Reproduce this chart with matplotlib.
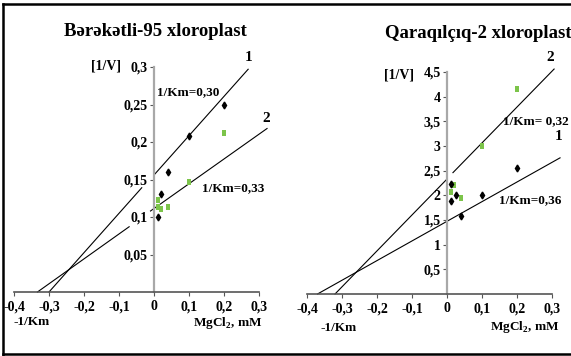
import matplotlib
matplotlib.use('Agg')
import matplotlib.pyplot as plt
from matplotlib.lines import Line2D

plt.rcParams['font.family'] = ['Liberation Serif', 'DejaVu Serif']
plt.rcParams['font.weight'] = 'bold'
plt.rcParams['mathtext.fontset'] = 'custom'
plt.rcParams['mathtext.rm'] = 'Liberation Serif:bold'
plt.rcParams['mathtext.bf'] = 'Liberation Serif:bold'

# Tick values and labels
x_ticks = [-0.4, -0.3, -0.2, -0.1, 0.0, 0.1, 0.2, 0.3]
x_labels = ['-0,4', '-0,3', '-0,2', '-0,1', '0', '0,1', '0,2', '0,3']
left_y_ticks = [0.05, 0.10, 0.15, 0.20, 0.25, 0.30]
left_y_labels = ['0,05', '0,1', '0,15', '0,2', '0,25', '0,3']
right_y_ticks = [0.5, 1.0, 1.5, 2.0, 2.5, 3.0, 3.5, 4.0, 4.5]
right_y_labels = ['0,5', '1', '1,5', '2', '2,5', '3', '3,5', '4', '4,5']

# Bərəkətli-95: measured points
left_s1_x = [0.01, 0.02, 0.04, 0.10, 0.20]
left_s1_y = [0.100, 0.131, 0.160, 0.208, 0.249]
left_s2_x = [0.012, 0.012, 0.02, 0.04, 0.10, 0.20]
left_s2_y = [0.123, 0.113, 0.111, 0.113, 0.147, 0.212]
# fitted lines, drawn in pieces (gap near y axis like the original)
left_l1_x = [[-0.30, -0.035], [0.0, 0.269]]
left_l1_y = [[0.0, 0.139], [0.156, 0.297]]
left_l2_x = [[-0.333, -0.071], [-0.01, 0.323]]
left_l2_y = [[0.0, 0.087], [0.108, 0.218]]

# Qaraqılçıq-2: measured points
right_s1_x = [0.011, 0.011, 0.025, 0.04, 0.10, 0.20]
right_s1_y = [2.22, 1.88, 2.00, 1.58, 2.00, 2.56]
right_s2_x = [0.011, 0.02, 0.04, 0.10, 0.20]
right_s2_y = [2.06, 2.20, 1.94, 3.00, 4.16]
right_l1_x = [[-0.37, 0.323]]
right_l1_y = [[0.0, 2.76]]
right_l2_x = [[-0.32, 0.0], [0.017, 0.306]]
right_l2_y = [[0.0, 2.33], [2.46, 4.56]]

GREEN = '#7cc44a'
rect_marker = [(-0.6, -1), (0.6, -1), (0.6, 1), (-0.6, 1), (-0.6, -1)]

fig = plt.figure(figsize=(5.71, 3.56), dpi=100)
fig.patch.set_facecolor('white')


def style_axes(ax, ylim, yticks, ylabels):
    ax.set_xlim(-0.4, 0.3)
    ax.set_ylim(*ylim)
    ax.spines['top'].set_visible(False)
    ax.spines['right'].set_visible(False)
    ax.spines['left'].set_position(('data', 0))
    ax.spines['left'].set_color('#a8a8a8')
    ax.spines['left'].set_linewidth(1.6)
    ax.spines['bottom'].set_color('#555555')
    ax.spines['bottom'].set_linewidth(1.2)
    ax.set_xticks(x_ticks)
    ax.set_xticklabels(x_labels)
    ax.set_yticks(yticks)
    ax.set_yticklabels(ylabels)
    ax.tick_params(axis='x', direction='out', length=3, width=0.8, color='#555555',
                   labelsize=10, pad=3)
    ax.tick_params(axis='y', direction='out', length=3, width=0.8, color='#555555',
                   labelsize=10, pad=1.5)
    for lab in ax.get_xticklabels() + ax.get_yticklabels():
        lab.set_fontweight('bold')
    ax.set_facecolor('none')


def draw_series(ax, lines_x, lines_y):
    for xs, ys in zip(lines_x, lines_y):
        ax.plot(xs, ys, color='black', lw=0.8, clip_on=False)


# Left panel
ax1 = fig.add_axes([14 / 571, 64 / 356, 245 / 571, 225 / 356])
style_axes(ax1, (0, 0.3), left_y_ticks, left_y_labels)
draw_series(ax1, left_l1_x, left_l1_y)
draw_series(ax1, left_l2_x, left_l2_y)
ax1.plot(left_s2_x, left_s2_y, linestyle='none', marker=rect_marker, markersize=5,
         color=GREEN, markeredgewidth=0, clip_on=False)
ax1.plot(left_s1_x, left_s1_y, linestyle='none', marker='d', markersize=3.5,
         color='black', clip_on=False)

ax1.text(0.269, 0.313, '1', fontsize=11, fontweight='bold', ha='center', va='center')
ax1.text(0.32, 0.232, '2', fontsize=11, fontweight='bold', ha='center', va='center')
ax1.text(0.097, 0.267, '1/Km=0,30', fontsize=9.5, fontweight='bold', ha='center', va='center')
ax1.text(0.226, 0.139, '1/Km=0,33', fontsize=9.5, fontweight='bold', ha='center', va='center')
ax1.text(-0.137, 0.301, '[1/V]', fontsize=10, fontweight='bold', ha='center', va='center')
ax1.text(-0.351, -0.04, '-1/Km', fontsize=9.5, fontweight='bold', ha='center', va='center',
         clip_on=False)
ax1.text(0.211, -0.041, r'MgCl$_\mathbf{2}$, mM', fontsize=9.5, fontweight='bold',
         ha='center', va='center', clip_on=False)

# Right panel
ax2 = fig.add_axes([307 / 571, 62 / 356, 245 / 571, 222 / 356])
style_axes(ax2, (0, 4.5), right_y_ticks, right_y_labels)
draw_series(ax2, right_l1_x, right_l1_y)
draw_series(ax2, right_l2_x, right_l2_y)
ax2.plot(right_s2_x, right_s2_y, linestyle='none', marker=rect_marker, markersize=5,
         color=GREEN, markeredgewidth=0, clip_on=False)
ax2.plot(right_s1_x, right_s1_y, linestyle='none', marker='d', markersize=3.5,
         color='black', clip_on=False)

ax2.text(0.294, 4.8, '2', fontsize=11, fontweight='bold', ha='center', va='center',
         clip_on=False)
ax2.text(0.16, 3.5, '1/Km= 0,32', fontsize=9.5, fontweight='bold', ha='left', va='center',
         clip_on=False)
ax2.text(0.32, 3.2, '1', fontsize=11, fontweight='bold', ha='center', va='center',
         clip_on=False)
ax2.text(0.237, 1.9, '1/Km=0,36', fontsize=9.5, fontweight='bold', ha='center', va='center')
ax2.text(-0.137, 4.44, '[1/V]', fontsize=10, fontweight='bold', ha='center', va='center')
ax2.text(-0.311, -0.69, '-1/Km', fontsize=9.5, fontweight='bold', ha='center', va='center',
         clip_on=False)
ax2.text(0.223, -0.67, r'MgCl$_\mathbf{2}$, mM', fontsize=9.5, fontweight='bold',
         ha='center', va='center', clip_on=False)

# Titles
fig.text(155 / 571, 1 - 32 / 356, 'Bərəkətli-95 xloroplast', fontsize=13.5,
         fontweight='bold', ha='center', va='center')
fig.text(478 / 571, 1 - 33 / 356, 'Qaraqılçıq-2 xloroplast', fontsize=13.5,
         fontweight='bold', ha='center', va='center')

# Frame around the picture (left, top, bottom)
for xs, ys in [([3 / 571, 3 / 571], [1 / 356, 1 - 4 / 356]),
               ([3 / 571, 1.0], [1 - 4 / 356, 1 - 4 / 356]),
               ([3 / 571, 1.0], [2 / 356, 2 / 356])]:
    fig.add_artist(Line2D(xs, ys, color='black', lw=1.8))

plt.savefig('out.png', dpi=100, facecolor='white')
